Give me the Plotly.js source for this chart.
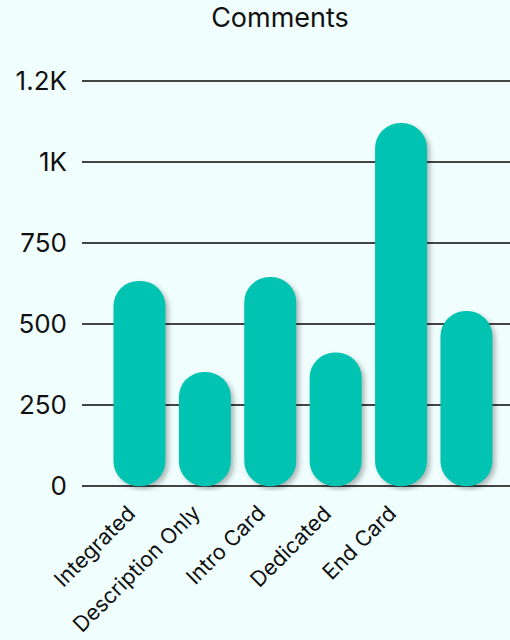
<!DOCTYPE html>
<html>
<head>
<meta charset="utf-8">
<script src="https://cdn.plot.ly/plotly-3.0.1.min.js"></script>
<style>
  html, body { margin: 0; padding: 0; background: #f0fffe; }
  #chart { width: 510px; height: 640px; }
  .barlayer { filter: drop-shadow(3px 3px 2.5px rgba(0,0,0,0.28)); }
</style>
</head>
<body>
<div id="chart"></div>
<script>
// Data
const categories = ['Integrated', 'Description Only', 'Intro Card', 'Dedicated', 'End Card', ' '];
const comments = [633, 352, 645, 412, 1120, 540];
const yTickVals = [0, 250, 500, 750, 1000, 1250];
const yTickText = ['0', '250', '500', '750', '1K', '1.2K'];
const chartTitle = 'Comments';

const barColor = '#00c4b1';
const FONT = 'Inter, "Open Sans", sans-serif';

// explicit zero base -> Plotly rounds both ends of each bar (pill shape)
const barBase = comments.map(() => 0);

const traces = [{
  type: 'bar',
  x: categories,
  y: comments,
  base: barBase,
  marker: { color: barColor, cornerradius: '50%', line: { width: 0 } },
  hoverinfo: 'skip',
  showlegend: false
}];

// rotated category labels, anchored under each category
const catLabels = categories.filter(c => c.trim() !== '').map(c => ({
  x: c, xref: 'x',
  y: 0, yref: 'y',
  text: c,
  textangle: -45,
  showarrow: false,
  xanchor: 'right',
  yanchor: 'top',
  xshift: 2,
  yshift: -12,
  borderpad: 0,
  font: { family: FONT, size: 21.5, color: '#111' }
}));

const layout = {
  width: 510,
  height: 640,
  paper_bgcolor: '#f0fffe',
  plot_bgcolor: '#f0fffe',
  margin: { l: 82, r: 0, t: 79, b: 149 },
  bargap: 0.205,
  font: { family: FONT, color: '#111' },
  title: {
    text: chartTitle,
    font: { family: FONT, size: 27, color: '#111' },
    xref: 'paper', x: 0.4626, xanchor: 'center',
    yref: 'container', y: 0.973, yanchor: 'middle'
  },
  annotations: catLabels,
  xaxis: {
    type: 'category',
    range: [-0.879, 5.666],
    showgrid: false,
    showline: false,
    zeroline: false,
    ticks: '',
    showticklabels: false
  },
  yaxis: {
    range: [-15, 1256],
    tickvals: yTickVals,
    ticktext: yTickText,
    showgrid: true,
    gridcolor: '#444',
    gridwidth: 1.5,
    zeroline: false,
    showline: false,
    ticks: '',
    ticklabelstandoff: 14,
    tickfont: { family: FONT, size: 26, color: '#111' }
  }
};

Plotly.newPlot('chart', traces, layout, { displayModeBar: false, staticPlot: true });
</script>
</body>
</html>
